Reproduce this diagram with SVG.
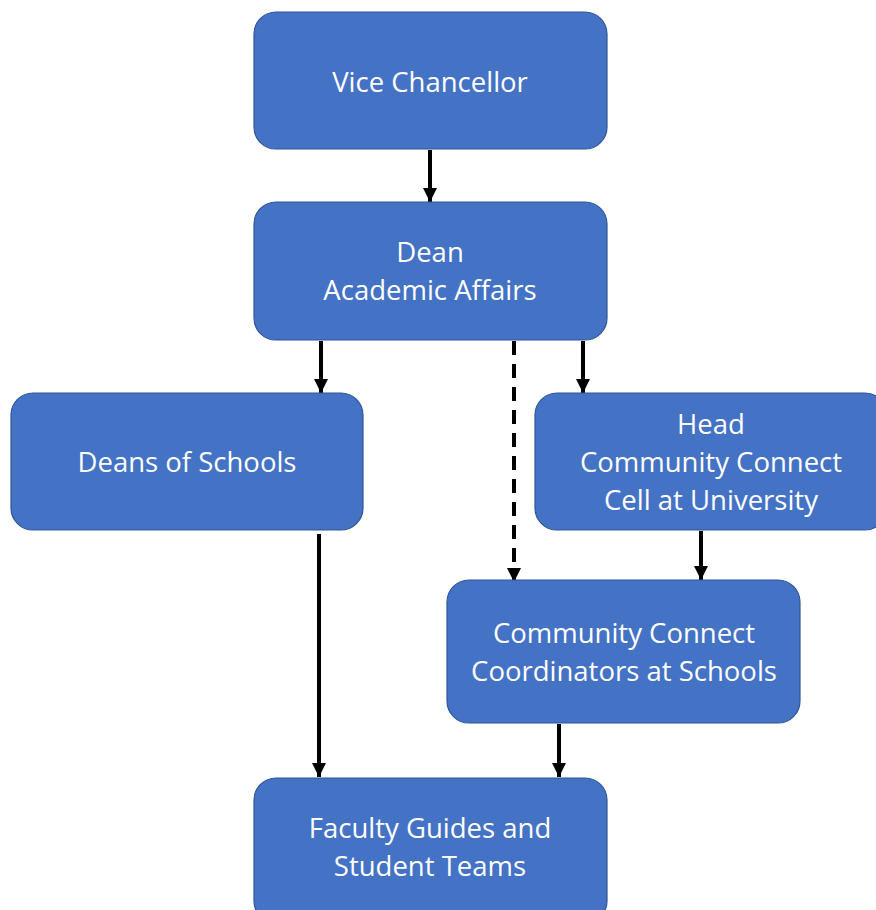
<svg xmlns="http://www.w3.org/2000/svg" width="876" height="910" viewBox="0 0 876 910">
<style>
.box{fill:#4472C4;stroke:#2F5597;stroke-width:1.2}
.t{fill:#ffffff;font-family:"Open Sans","Liberation Sans",sans-serif;font-size:27.5px;text-anchor:middle}
.c{stroke:#000;stroke-width:4;fill:none}
.d{stroke-dasharray:14 9}
</style>
<defs>
<marker id="ah" markerWidth="14" markerHeight="14" viewBox="0 0 14 14" refX="14" refY="7" orient="auto" markerUnits="userSpaceOnUse">
<path d="M0,0 L14,7 L0,14 Z" fill="#000"/>
</marker>
</defs>
<rect width="876" height="910" fill="#fff"/>
<g id="connectors">
<line class="c" x1="430" y1="150" x2="430" y2="202" marker-end="url(#ah)"/>
<line class="c" x1="321" y1="341" x2="321" y2="393" marker-end="url(#ah)"/>
<line class="c d" x1="514" y1="341" x2="514" y2="582" marker-end="url(#ah)"/>
<line class="c" x1="583" y1="341" x2="583" y2="393" marker-end="url(#ah)"/>
<line class="c" x1="701" y1="531" x2="701" y2="580" marker-end="url(#ah)"/>
<line class="c" x1="319" y1="534" x2="319" y2="777" marker-end="url(#ah)"/>
<line class="c" x1="559" y1="724" x2="559" y2="777" marker-end="url(#ah)"/>
</g>
<g id="vice-chancellor">
<rect class="box" x="254" y="12" width="353" height="137" rx="22"/>
<text class="t" x="430" y="92">Vice Chancellor</text>
</g>
<g id="dean">
<rect class="box" x="254" y="202" width="353" height="138" rx="22"/>
<text class="t" x="430" y="262">Dean</text>
<text class="t" x="430" y="300">Academic Affairs</text>
</g>
<g id="deans-of-schools">
<rect class="box" x="11" y="393" width="352" height="137" rx="22"/>
<text class="t" x="187" y="472">Deans of Schools</text>
</g>
<g id="head">
<rect class="box" x="535" y="393" width="352" height="137" rx="22"/>
<text class="t" x="711" y="434">Head</text>
<text class="t" x="711" y="472">Community Connect</text>
<text class="t" x="711" y="510">Cell at University</text>
</g>
<g id="coordinators">
<rect class="box" x="447" y="580" width="353" height="143" rx="22"/>
<text class="t" x="624" y="643">Community Connect</text>
<text class="t" x="624" y="681">Coordinators at Schools</text>
</g>
<g id="faculty">
<rect class="box" x="254" y="778" width="353" height="145" rx="22"/>
<text class="t" x="430" y="838">Faculty Guides and</text>
<text class="t" x="430" y="876">Student Teams</text>
</g>
</svg>
